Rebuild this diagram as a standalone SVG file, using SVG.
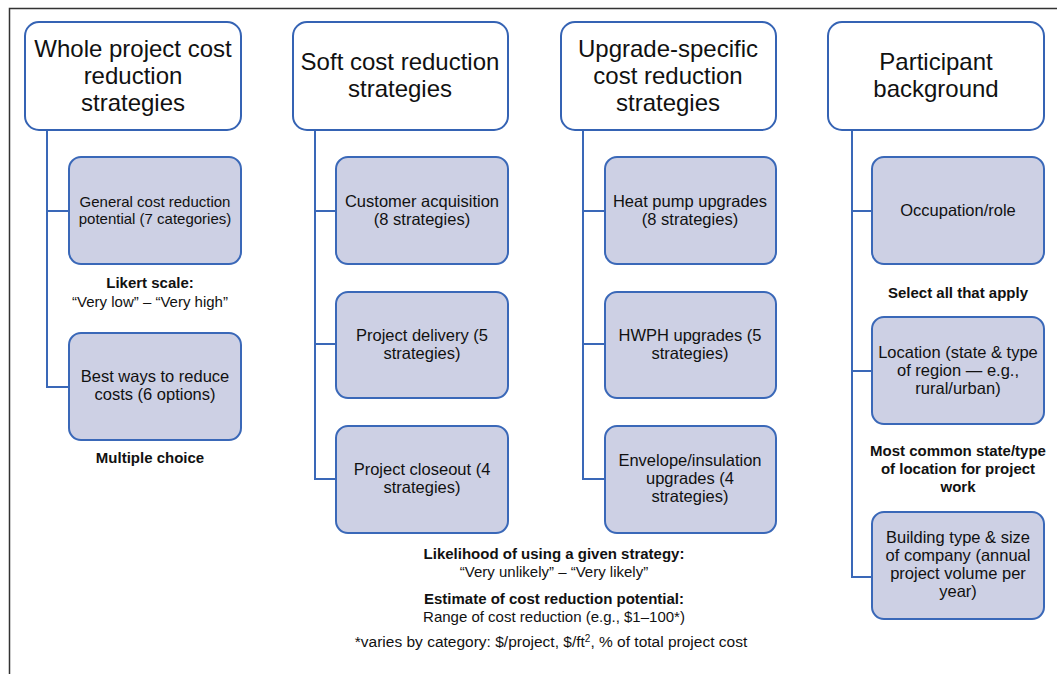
<svg xmlns="http://www.w3.org/2000/svg" width="1057" height="674" viewBox="0 0 1057 674">
<style>
text{font-family:"Liberation Sans",Arial,sans-serif;fill:#111;text-anchor:middle}
.h{font-size:24px}
.c{font-size:16.5px}
.s{font-size:15px}
.b{font-size:15px;font-weight:bold}
.n{font-size:15px}
.hb{fill:#fff;stroke:#3563b4;stroke-width:2}
.cb{fill:#cdd0e4;stroke:#3a68b8;stroke-width:2}
.ln{fill:none;stroke:#3a68b8;stroke-width:2}
</style>
<rect width="1057" height="674" fill="#fff"/>
<path d="M9.5 674 V8.5 H1057" fill="none" stroke="#333" stroke-width="1.5"/>
<g id="connectors">
<path class="ln" d="M47 130 V387 H69 M47 211 H69"/>
<path class="ln" d="M315 130 V479 H336 M315 211 H336 M315 344 H336"/>
<path class="ln" d="M583 130 V479 H605 M583 211 H605 M583 344 H605"/>
<path class="ln" d="M852 130 V577 H872 M852 211 H872 M852 371 H872"/>
</g>
<g id="h1"><rect class="hb" x="25" y="22" width="216" height="108" rx="14"/>
<text class="h" x="133" y="57">Whole project cost</text><text class="h" x="133" y="84">reduction</text><text class="h" x="133" y="111">strategies</text></g>
<g id="h2"><rect class="hb" x="293" y="22" width="215" height="108" rx="14"/>
<text class="h" x="400" y="70">Soft cost reduction</text><text class="h" x="400" y="97">strategies</text></g>
<g id="h3"><rect class="hb" x="561" y="22" width="215" height="108" rx="14"/>
<text class="h" x="668" y="57">Upgrade-specific</text><text class="h" x="668" y="84">cost reduction</text><text class="h" x="668" y="111">strategies</text></g>
<g id="h4"><rect class="hb" x="828" y="22" width="216" height="108" rx="14"/>
<text class="h" x="936" y="70">Participant</text><text class="h" x="936" y="97">background</text></g>

<g id="c1a"><rect class="cb" x="69" y="157" width="172" height="107" rx="12"/>
<text class="s" x="155" y="207">General cost reduction</text><text class="s" x="155" y="224">potential (7 categories)</text></g>
<g id="c1b"><rect class="cb" x="69" y="333" width="172" height="107" rx="12"/>
<text class="c" x="155" y="382">Best ways to reduce</text><text class="c" x="155" y="400">costs (6 options)</text></g>
<g id="lab1"><text class="b" x="150" y="288">Likert scale:</text><text class="n" x="150" y="307">“Very low” – “Very high”</text>
<text class="b" x="150" y="463">Multiple choice</text></g>

<g id="c2a"><rect class="cb" x="336" y="157" width="172" height="107" rx="12"/>
<text class="c" x="422" y="207">Customer acquisition</text><text class="c" x="422" y="225">(8 strategies)</text></g>
<g id="c2b"><rect class="cb" x="336" y="292" width="172" height="106" rx="12"/>
<text class="c" x="422" y="341">Project delivery (5</text><text class="c" x="422" y="359">strategies)</text></g>
<g id="c2c"><rect class="cb" x="336" y="426" width="172" height="107" rx="12"/>
<text class="c" x="422" y="475">Project closeout (4</text><text class="c" x="422" y="493">strategies)</text></g>

<g id="c3a"><rect class="cb" x="605" y="157" width="171" height="107" rx="12"/>
<text class="c" x="690" y="207">Heat pump upgrades</text><text class="c" x="690" y="225">(8 strategies)</text></g>
<g id="c3b"><rect class="cb" x="605" y="292" width="171" height="106" rx="12"/>
<text class="c" x="690" y="341">HWPH upgrades (5</text><text class="c" x="690" y="359">strategies)</text></g>
<g id="c3c"><rect class="cb" x="605" y="426" width="171" height="107" rx="12"/>
<text class="c" x="690" y="466">Envelope/insulation</text><text class="c" x="690" y="484">upgrades (4</text><text class="c" x="690" y="502">strategies)</text></g>

<g id="c4a"><rect class="cb" x="872" y="157" width="172" height="107" rx="12"/>
<text class="c" x="958" y="216">Occupation/role</text></g>
<g id="lab4a"><text class="b" x="958" y="298">Select all that apply</text></g>
<g id="c4b"><rect class="cb" x="872" y="317" width="172" height="107" rx="12"/>
<text class="c" x="958" y="358">Location (state &amp; type</text><text class="c" x="958" y="376">of region — e.g.,</text><text class="c" x="958" y="394">rural/urban)</text></g>
<g id="lab4b"><text class="b" x="958" y="456">Most common state/type</text><text class="b" x="958" y="474">of location for project</text><text class="b" x="958" y="492">work</text></g>
<g id="c4c"><rect class="cb" x="872" y="512" width="172" height="107" rx="12"/>
<text class="c" x="958" y="543">Building type &amp; size</text><text class="c" x="958" y="561">of company (annual</text><text class="c" x="958" y="579">project volume per</text><text class="c" x="958" y="597">year)</text></g>

<g id="bottom">
<text class="b" x="554" y="559">Likelihood of using a given strategy:</text>
<text class="n" x="554" y="577">“Very unlikely” – “Very likely”</text>
<text class="b" x="554" y="604">Estimate of cost reduction potential:</text>
<text class="n" x="554" y="622">Range of cost reduction (e.g., $1–100*)</text>
<text style="font-size:15.5px" x="551" y="647">*varies by category: $/project, $/ft<tspan font-size="10" dy="-5">2</tspan><tspan dy="5">, % of total project cost</tspan></text>
</g>
</svg>
